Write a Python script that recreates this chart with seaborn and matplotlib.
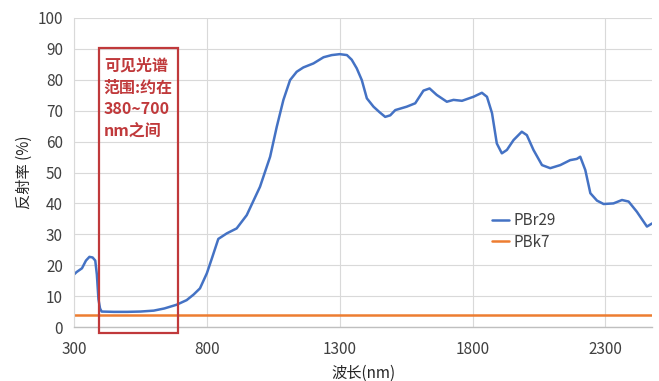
import numpy as np
import pandas as pd
import matplotlib
matplotlib.use("Agg")
import matplotlib.pyplot as plt
import seaborn as sns
from matplotlib.patches import Rectangle

# ---- data ----
wavelength_pbr29 = [300, 310, 330, 345, 358, 370, 380, 386, 392, 398, 404, 450, 500, 550,
                    600, 640, 686, 724, 750, 774, 800, 820, 843, 875, 912, 950, 1000,
                    1038, 1063, 1088, 1113, 1138, 1163, 1201, 1239, 1270, 1300, 1327,
                    1345, 1364, 1383, 1402, 1427, 1450, 1471, 1490, 1509, 1552, 1584,
                    1615, 1638, 1665, 1703, 1728, 1760, 1803, 1835, 1854, 1873, 1891,
                    1910, 1929, 1954, 1985, 2004, 2029, 2061, 2092, 2130, 2167, 2192,
                    2205, 2224, 2243, 2268, 2293, 2330, 2362, 2387, 2418, 2456, 2475]
reflect_pbr29 = [17.0, 17.8, 19.0, 21.5, 22.7, 22.5, 21.5, 17.0, 9.0, 6.0, 5.0, 4.9, 4.9, 5.0,
                 5.3, 6.0, 7.2, 8.7, 10.5, 12.5, 17.4, 22.5, 28.5, 30.3, 31.9, 36.2, 45.4,
                 55.1, 64.8, 73.5, 79.9, 82.6, 84.0, 85.3, 87.3, 88.0, 88.3, 88.0,
                 86.5, 83.7, 79.9, 74.0, 71.3, 69.5, 68.0, 68.5, 70.2, 71.3, 72.4,
                 76.5, 77.2, 75.1, 72.9, 73.5, 73.2, 74.5, 75.8, 74.5, 69.2, 59.4,
                 56.2, 57.3, 60.5, 63.2, 62.1, 57.3, 52.4, 51.4, 52.4, 54.0, 54.4,
                 55.1, 50.8, 43.3, 40.9, 39.8, 40.0, 41.1, 40.6, 37.3, 32.5, 33.5]
wavelength_pbk7 = [300, 2475]
reflect_pbk7 = [3.8, 3.8]

series_names = ["PBr29", "PBk7"]
x_ticks = [300, 800, 1300, 1800, 2300]
y_ticks = list(range(0, 101, 10))
box_range = [395, 690]
box_text = "可见光谱\n范围:约在\n380~700\nnm之间"

df = pd.concat([
    pd.DataFrame({"wl": wavelength_pbr29, "r": reflect_pbr29, "s": series_names[0]}),
    pd.DataFrame({"wl": wavelength_pbk7, "r": reflect_pbk7, "s": series_names[1]}),
])

sns.set_theme(style="whitegrid")
plt.rcParams["font.family"] = ["Noto Sans CJK SC", "DejaVu Sans"]

fig = plt.figure(figsize=(6.59, 3.81), dpi=100)
ax = fig.add_axes([74 / 659, 1 - 327 / 381, 578 / 659, 309 / 381])

sns.lineplot(data=df, x="wl", y="r", hue="s", palette=["#4472C4", "#ED7D31"],
             linewidth=1.8, ax=ax, sort=False)

ax.set_xlim(300, 2475)
ax.set_ylim(0, 100)
ax.set_xticks(x_ticks)
ax.set_yticks(y_ticks)
ax.grid(True, color="#D9D9D9", linewidth=0.8)
for side in ["top", "right"]:
    ax.spines[side].set_visible(False)
ax.spines["left"].set_color("#D9D9D9")
ax.spines["bottom"].set_color("#BFBFBF")
ax.spines["left"].set_linewidth(0.8)
ax.spines["bottom"].set_linewidth(1.0)
ax.tick_params(axis="both", length=0, labelsize=11, labelcolor="#404040")
ax.tick_params(axis="x", pad=10)
ax.tick_params(axis="y", pad=8)
ax.set_xlabel("波长(nm)", fontsize=11, color="#262626", labelpad=5)
ax.set_ylabel("反射率 (%)", fontsize=11, color="#262626", labelpad=3)

red = "#C0393B"
rect = Rectangle((box_range[0], -2.0), box_range[1] - box_range[0], 92.2,
                 fill=False, edgecolor=red, linewidth=1.6, clip_on=False, zorder=5)
ax.add_patch(rect)
ax.text(412, 87.2, box_text, color=red, fontsize=11.5, fontweight="bold",
        va="top", ha="left", linespacing=1.45, zorder=6)

leg = ax.legend(loc="upper left", bbox_to_anchor=(0.723, 0.372), frameon=False,
                fontsize=11, handlelength=1.1, handletextpad=0.3, labelspacing=0.3,
                borderpad=0, borderaxespad=0, title=None)
for t in leg.get_texts():
    t.set_color("#404040")

fig.savefig("out.png", dpi=100)
